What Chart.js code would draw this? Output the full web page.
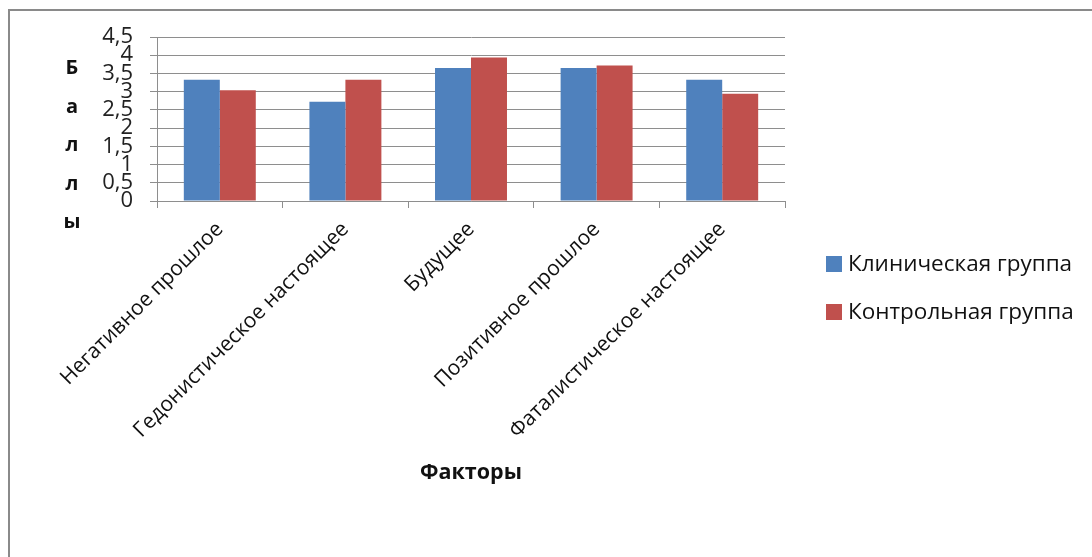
<!DOCTYPE html>
<html>
<head>
<meta charset="utf-8">
<script src="https://cdn.jsdelivr.net/npm/chart.js@4/dist/chart.umd.min.js"></script>
<style>
  html, body { margin: 0; padding: 0; background: #fff; }
  #c { display: block; }
</style>
</head>
<body>
<canvas id="c" width="1092" height="557"></canvas>
<script>
// Factor categories (x axis)
const factors = [
  'Негативное прошлое',
  'Гедонистическое настоящее',
  'Будущее',
  'Позитивное прошлое',
  'Фаталистическое настоящее'
];
// Mean scores per group
const clinicalGroup = [3.33, 2.72, 3.65, 3.65, 3.33];
const controlGroup  = [3.04, 3.33, 3.94, 3.72, 2.94];
// Series names
const seriesNames = ['Клиническая группа', 'Контрольная группа'];
// Axis titles
const yTitle = 'Баллы';
const xTitle = 'Факторы';

const FONT = '"Open Sans", "DejaVu Sans", sans-serif';
const GRID = '#8e8e8e';

// Outer frame, vertical y title and legend on the right
const decorations = {
  id: 'decorations',
  beforeDraw(chart) {
    const ctx = chart.ctx;
    ctx.save();
    ctx.fillStyle = '#fff';
    ctx.fillRect(0, 0, chart.width, chart.height);
    ctx.strokeStyle = '#8a8a8a';
    ctx.lineWidth = 2;
    ctx.beginPath();
    ctx.moveTo(9, chart.height + 5);
    ctx.lineTo(9, 10);
    ctx.lineTo(chart.width + 5, 10);
    ctx.stroke();
    ctx.restore();
  },
  afterDraw(chart) {
    const ctx = chart.ctx;
    ctx.save();
    // y title written letter by letter
    ctx.fillStyle = '#111';
    ctx.font = 'bold 20px ' + FONT;
    ctx.textAlign = 'center';
    ctx.textBaseline = 'alphabetic';
    Array.from(yTitle).forEach((ch, i) => ctx.fillText(ch, 72, 74 + i * 38.5));
    // legend
    ctx.textAlign = 'left';
    ctx.textBaseline = 'middle';
    ctx.font = '22.5px ' + FONT;
    chart.data.datasets.forEach((ds, i) => {
      const y = 264 + i * 48;
      ctx.fillStyle = ds.backgroundColor;
      ctx.fillRect(826, y - 8, 16, 16);
      ctx.fillStyle = '#111';
      ctx.fillText(ds.label, 848, y + 1);
    });
    ctx.restore();
  }
};

new Chart(document.getElementById('c'), {
  type: 'bar',
  data: {
    labels: factors,
    datasets: [
      { label: seriesNames[0], data: clinicalGroup, backgroundColor: '#4F81BD' },
      { label: seriesNames[1], data: controlGroup,  backgroundColor: '#C0504D' }
    ]
  },
  options: {
    responsive: false,
    animation: false,
    devicePixelRatio: 1,
    layout: { padding: { left: 0, top: 37, right: 307, bottom: 71 } },
    datasets: { bar: { categoryPercentage: 0.573, barPercentage: 1.0 } },
    plugins: {
      legend: { display: false },
      tooltip: { enabled: false }
    },
    scales: {
      x: {
        afterFit(scale) { scale.height = 285; },
        grid: {
          offset: true,
          drawOnChartArea: false,
          drawTicks: true,
          tickLength: 7,
          color: GRID,
          lineWidth: 1
        },
        border: { display: true, color: GRID, width: 1 },
        ticks: {
          autoSkip: false,
          maxRotation: 45,
          minRotation: 45,
          padding: 9,
          color: '#111',
          font: { family: FONT, size: 21 }
        },
        title: {
          display: true,
          text: xTitle,
          color: '#111',
          font: { family: FONT, size: 21.5, weight: 'bold' },
          padding: 0
        }
      },
      y: {
        min: 0,
        max: 4.5,
        afterFit(scale) { scale.width = 157; },
        grid: {
          color: GRID,
          lineWidth: 1,
          drawTicks: true,
          tickLength: 7
        },
        border: { display: true, color: GRID, width: 1 },
        ticks: {
          stepSize: 0.5,
          autoSkip: false,
          padding: 17,
          color: '#222',
          font: { family: FONT, size: 22 },
          callback: (v) => String(v).replace('.', ',')
        }
      }
    }
  },
  plugins: [decorations]
});
</script>
</body>
</html>
